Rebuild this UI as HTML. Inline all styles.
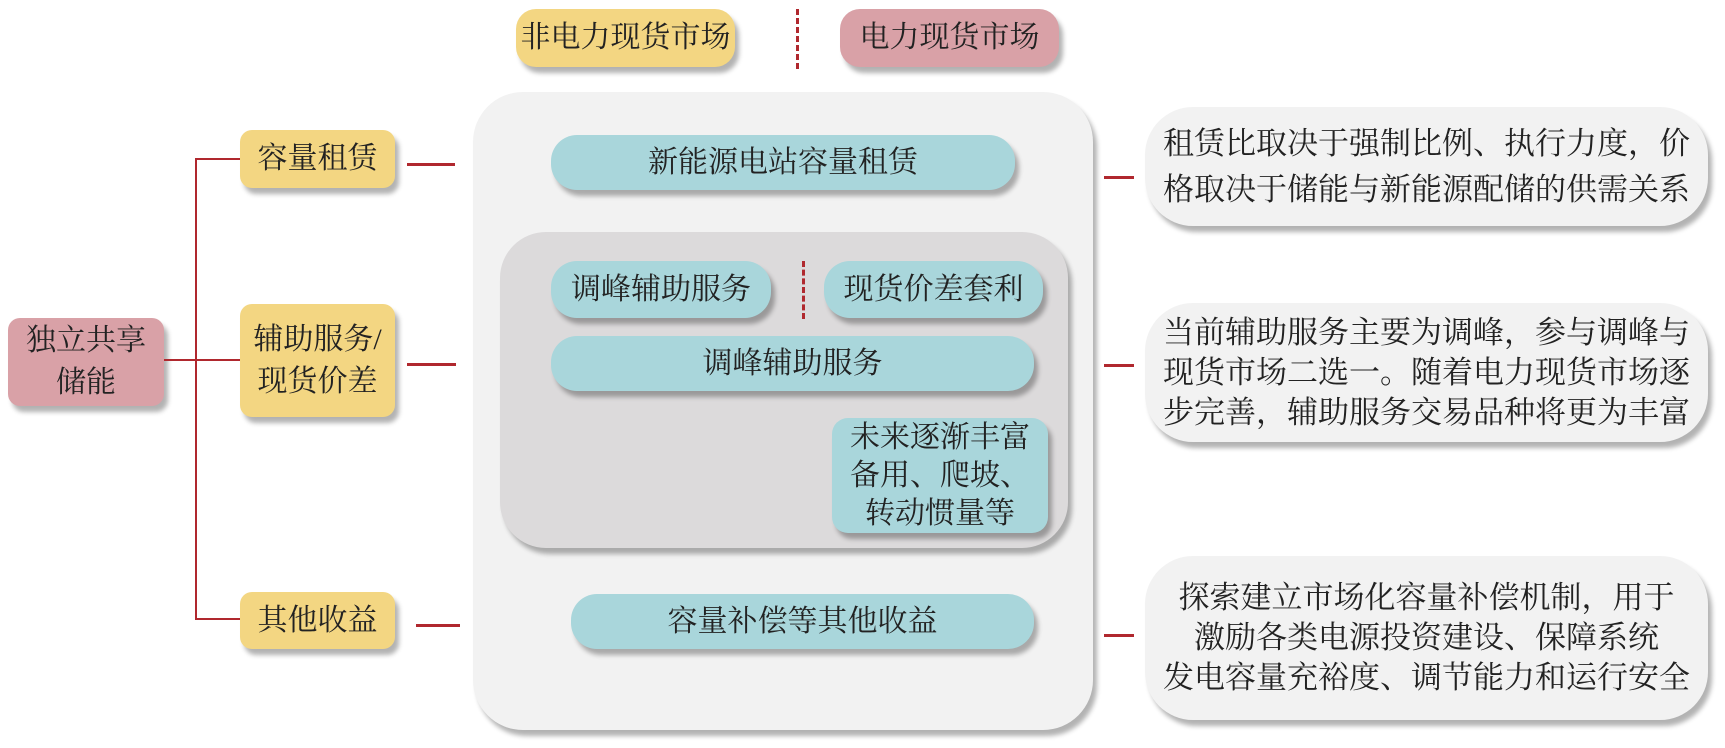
<!DOCTYPE html>
<html><head><meta charset="utf-8"><style>
body{margin:0;width:1725px;height:748px;background:#fff;position:relative;overflow:hidden;font-family:"Liberation Serif","Noto Serif CJK SC",serif;color:#222}
.b{position:absolute;box-sizing:border-box;display:flex;align-items:center;justify-content:center;text-align:center;box-shadow:4px 6px 5px rgba(0,0,0,0.3);font-size:30px;line-height:42px;white-space:nowrap}
.y{background:#f3d682;border-radius:12px}
.p{background:#d9a1a7;border-radius:12px}
.c{background:#a9d6db;border-radius:26px}
.w{background:#f2f2f2;border-radius:48px;font-size:31px;line-height:40px}
.l{position:absolute;background:#b0282e}
</style></head><body>
<div class="b" style="left:473px;top:92px;width:620px;height:638px;background:#f2f2f2;border-radius:50px"></div>
<div class="b" style="left:500px;top:232px;width:568px;height:316px;background:#dcdadb;border-radius:46px"></div>

<div class="b y" style="left:516px;top:9px;width:219px;height:58px;border-radius:20px">非电力现货市场</div>
<div class="b p" style="left:840px;top:9px;width:219px;height:58px;border-radius:20px">电力现货市场</div>
<div style="position:absolute;left:796px;top:9px;height:60px;border-left:3px dashed #b0282e"></div>

<div class="b p" style="left:8px;top:318px;width:156px;height:88px">独立共享<br>储能</div>
<div class="l" style="left:164px;top:359px;width:33px;height:2px"></div>
<div class="l" style="left:195px;top:158px;width:2px;height:462px"></div>
<div class="l" style="left:195px;top:158px;width:45px;height:2px"></div>
<div class="l" style="left:195px;top:359px;width:45px;height:2px"></div>
<div class="l" style="left:195px;top:618px;width:45px;height:2px"></div>

<div class="b y" style="left:240px;top:130px;width:155px;height:58px">容量租赁</div>
<div class="b y" style="left:240px;top:304px;width:155px;height:113px">辅助服务/<br>现货价差</div>
<div class="b y" style="left:240px;top:592px;width:155px;height:57px">其他收益</div>

<div class="l" style="left:407px;top:163px;width:48px;height:3px"></div>
<div class="l" style="left:407px;top:363px;width:49px;height:3px"></div>
<div class="l" style="left:416px;top:624px;width:44px;height:3px"></div>

<div class="b c" style="left:551px;top:135px;width:464px;height:55px">新能源电站容量租赁</div>
<div class="b c" style="left:551px;top:261px;width:220px;height:57px">调峰辅助服务</div>
<div style="position:absolute;left:802px;top:261px;height:58px;border-left:3px dashed #b0282e"></div>
<div class="b c" style="left:824px;top:261px;width:219px;height:57px">现货价差套利</div>
<div class="b c" style="left:551px;top:336px;width:483px;height:55px">调峰辅助服务</div>
<div class="b c" style="left:832px;top:418px;width:216px;height:115px;border-radius:16px;line-height:38px">未来逐渐丰富<br>备用、爬坡、<br>转动惯量等</div>
<div class="b c" style="left:571px;top:594px;width:463px;height:55px">容量补偿等其他收益</div>

<div class="l" style="left:1104px;top:176px;width:30px;height:3px"></div>
<div class="l" style="left:1104px;top:364px;width:30px;height:3px"></div>
<div class="l" style="left:1104px;top:634px;width:30px;height:3px"></div>

<div class="b w" style="left:1145px;top:107px;width:563px;height:119px;line-height:46px">租赁比取决于强制比例、执行力度，价<br>格取决于储能与新能源配储的供需关系</div>
<div class="b w" style="left:1145px;top:303px;width:563px;height:139px">当前辅助服务主要为调峰，参与调峰与<br>现货市场二选一。随着电力现货市场逐<br>步完善，辅助服务交易品种将更为丰富</div>
<div class="b w" style="left:1145px;top:556px;width:563px;height:164px">探索建立市场化容量补偿机制，用于<br>激励各类电源投资建设、保障系统<br>发电容量充裕度、调节能力和运行安全</div>
</body></html>
